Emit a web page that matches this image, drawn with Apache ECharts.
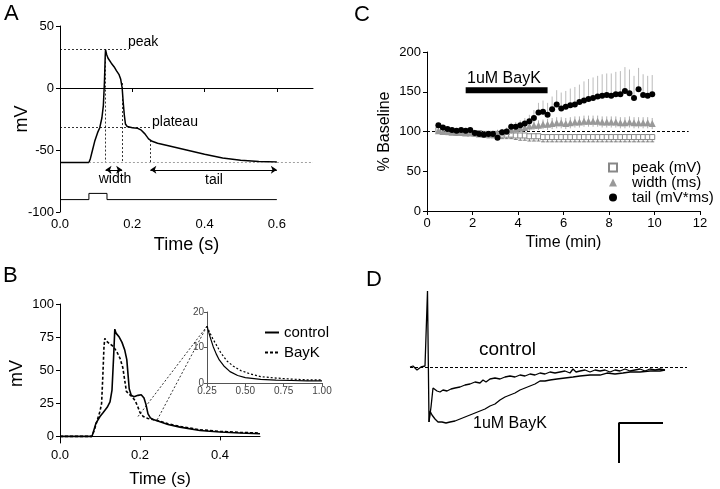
<!DOCTYPE html>
<html>
<head>
<meta charset="utf-8">
<script src="https://cdn.jsdelivr.net/npm/echarts@6/dist/echarts.min.js"></script>
<style>
  html, body { margin: 0; padding: 0; background: #fff; }
  #fig { width: 720px; height: 489px; }
</style>
</head>
<body>
<div id="fig"></div>
<script>
// ---- panel A: action potential with measured parameters
const aTime = [0, 0.08, 0.084, 0.09, 0.096, 0.104, 0.11, 0.116, 0.12, 0.123, 0.125, 0.126, 0.129, 0.133, 0.142, 0.15, 0.156, 0.163, 0.168, 0.172, 0.175, 0.178, 0.181, 0.186, 0.2, 0.215, 0.225, 0.235, 0.245, 0.255, 0.27, 0.3, 0.35, 0.4, 0.45, 0.5, 0.55, 0.6]
const aVm = [-60, -60, -57, -50, -43, -36, -32, -24, -14, 5, 25, 31, 27, 24, 20, 17, 14, 11, 7, 0, -12, -22, -29, -31, -32, -32.5, -34, -37, -41, -43, -44.5, -46.5, -50, -53.5, -56.5, -58.3, -59.3, -59.6]
const stimTime = [0, 0.08, 0.08, 0.13, 0.13, 0.6]
const stimVm = [-90, -90, -85, -85, -90, -90]

// ---- panel B: control vs BayK
const bCtrlTime = [0, 0.08, 0.085, 0.09, 0.1, 0.108, 0.118, 0.125, 0.13, 0.134, 0.137, 0.14, 0.148, 0.155, 0.162, 0.167, 0.17, 0.173, 0.178, 0.185, 0.195, 0.203, 0.21, 0.215, 0.22, 0.226, 0.235, 0.25, 0.27, 0.3, 0.35, 0.4, 0.45, 0.5]
const bCtrlVm = [0, 0, 5, 10, 15, 18, 22, 26, 35, 60, 81, 78, 75, 71, 65, 58, 47, 36, 31, 30, 31, 31.5, 29, 24, 17, 14, 12.5, 11, 9, 7, 4.5, 3.3, 2.5, 2]
const bBayTime = [0, 0.08, 0.085, 0.09, 0.095, 0.1, 0.104, 0.107, 0.11, 0.112, 0.116, 0.124, 0.133, 0.142, 0.15, 0.157, 0.162, 0.166, 0.172, 0.18, 0.188, 0.195, 0.2, 0.208, 0.22, 0.235, 0.25, 0.27, 0.3, 0.35, 0.4, 0.45, 0.5]
const bBayVm = [0, 0, 4, 9, 14, 19, 25, 45, 68, 74, 72, 70, 68, 64, 59, 52, 42, 34, 32, 30, 27, 22, 18, 15, 13.5, 12.5, 11.5, 9.5, 7.5, 5, 3.8, 3, 2.5]
const inCtrlTime = [0.25, 0.27, 0.29, 0.31, 0.33, 0.36, 0.4, 0.45, 0.5, 0.6, 0.7, 0.8, 0.9, 1.0]
const inCtrlVm = [16, 13, 10.3, 8.2, 6.5, 4.8, 3.2, 2.1, 1.5, 1, 0.8, 0.7, 0.6, 0.6]
const inBayTime = [0.25, 0.27, 0.29, 0.31, 0.34, 0.38, 0.42, 0.47, 0.53, 0.6, 0.7, 0.8, 0.9, 1.0]
const inBayVm = [16, 14, 12.3, 10.8, 8.5, 6.2, 4.8, 3.5, 2.6, 1.8, 1.4, 1.1, 0.9, 0.9]

// ---- panel C: time course (% baseline)
const cTime = [0.5, 0.7, 0.9, 1.1, 1.3, 1.5, 1.7, 1.9, 2.1, 2.3, 2.5, 2.7, 2.9, 3.1, 3.3, 3.5, 3.7, 3.9, 4.1, 4.3, 4.5, 4.7, 4.9, 5.1, 5.3, 5.5, 5.7, 5.9, 6.1, 6.3, 6.5, 6.7, 6.9, 7.1, 7.3, 7.5, 7.7, 7.9, 8.1, 8.3, 8.5, 8.7, 8.9, 9.1, 9.3, 9.5, 9.7, 9.9]
const peakVals = [102, 101, 100, 100, 99, 99, 99, 99, 98, 98, 97, 97, 97, 97, 96, 96, 96, 95, 95, 95, 94, 94, 94, 93, 93, 93, 93, 93, 93, 93, 93, 93, 93, 93, 93, 93, 93, 93, 93, 93, 93, 93, 93, 93, 93, 93, 93, 93]
const peakErr = [4, 4, 4, 4, 4, 4, 4, 4, 4, 4, 4, 5, 5, 5, 5, 5, 5, 5, 6, 6, 6, 6, 6, 6, 6, 6, 6, 6, 6, 6, 6, 6, 6, 6, 6, 6, 6, 6, 6, 6, 6, 6, 6, 6, 6, 6, 6, 6]
const widthVals = [101, 100, 100, 99, 99, 99, 98, 98, 98, 97, 97, 97, 97, 98, 99, 100, 102, 103, 104, 105, 107, 108, 108, 109, 109, 110, 111, 111, 110, 111, 112, 112, 113, 113, 113, 113, 112, 112, 112, 112, 111, 111, 112, 111, 111, 111, 111, 110]
const widthErr = [3, 3, 3, 3, 3, 3, 3, 3, 3, 3, 3, 3, 4, 4, 4, 4, 5, 5, 5, 5, 6, 6, 6, 6, 7, 7, 7, 7, 7, 7, 7, 7, 7, 7, 7, 7, 7, 7, 7, 7, 7, 7, 7, 7, 7, 7, 7, 7]
const tailVals = [108, 105, 103, 102, 101, 102, 101, 102, 98, 97, 96, 97, 97, 92, 99, 100, 106, 106, 108, 110, 113, 117, 124, 125, 121, 128, 134, 129, 131, 133, 134, 137, 139, 141, 142, 144, 145, 146, 145, 147, 147, 151, 148, 142, 153, 146, 145, 147]
const tailErr = [3, 3, 3, 3, 3, 3, 3, 3, 4, 4, 4, 4, 4, 4, 4, 5, 5, 6, 6, 7, 8, 10, 12, 14, 15, 16, 18, 20, 20, 21, 22, 22, 24, 25, 26, 26, 27, 27, 28, 28, 29, 30, 30, 28, 27, 26, 25, 24]
const bayKBarTime = [1.7, 5.3]
const bayKBarVal = [152, 152]

// ---- panel D: currents (arbitrary units, baseline = 0)
const dCtrlTime = [0, 3, 5, 7, 9, 11, 13, 15, 17, 17.5, 18.5, 19, 21, 23, 25, 27, 30, 33, 37, 41, 45, 50, 55, 60, 65, 70, 73, 76, 80, 85, 90, 95, 100, 105, 110, 115, 120, 125, 130, 135, 140, 145, 150, 155, 160, 163, 166, 170, 175, 180, 185, 190, 195, 200, 205, 210, 215, 220, 225, 230, 235, 240, 245, 250, 255]
const dCtrlCur = [0, 1, -1, -3, -2, 0, -1, 1, 0, 76, 76, -55, -40, -21, -19, -24, -25, -23, -24, -22, -21, -20, -18, -17, -15, -16, -13, -15, -12, -11, -12, -10, -9, -10, -8, -9, -7, -8, -6, -7, -5, -6, -5, -4, -6, -2, -5, -4, -3, -5, -3, -4, -3, -5, -3, -4, -2, -4, -3, -2, -4, -2, -3, -2, -3]
const dBayTime = [19, 20, 22, 25, 28, 32, 36, 40, 45, 50, 55, 60, 65, 70, 75, 80, 85, 90, 95, 100, 105, 110, 115, 120, 125, 130, 135, 140, 147, 155, 163, 170, 180, 190, 197, 205, 213, 220, 230, 240, 250, 255]
const dBayCur = [-55, -44, -48, -52, -55, -55, -56, -55, -54, -52, -50, -48, -46, -44, -42, -39, -37, -33, -30, -28, -26, -23, -21, -19, -17, -14, -14, -13, -12, -11, -10, -9, -8, -8, -6, -7, -6, -5, -5, -4, -4, -3]
const scaleTime = [253, 209, 209]
const scaleCur = [-56, -56, -96]

const zip = (a, b) => a.map((v, i) => [v, b[i]])
const errData = (xs, ys, es, dir) => xs.map((x, i) => [x, ys[i], ys[i] + dir * es[i]])

const FONT = '"Liberation Sans", Arial, sans-serif'
const axisBase = (extra) => Object.assign({
  type: 'value',
  axisLine: { show: true, lineStyle: { color: '#000', width: 1 } },
  axisTick: { show: true, length: 4, lineStyle: { color: '#000' } },
  axisLabel: { color: '#000', fontSize: 13, fontFamily: FONT, margin: 6 },
  splitLine: { show: false },
  nameTextStyle: { color: '#000', fontFamily: FONT, fontSize: 17 },
  nameLocation: 'middle'
}, extra)

const dotted = { color: '#000', width: 0.8, type: [2, 2] }

const errBar = (color, cap) => function (params, api) {
  const p0 = api.coord([api.value(0), api.value(1)])
  const p1 = api.coord([api.value(0), api.value(2)])
  const kids = [{ type: 'line', shape: { x1: p0[0], y1: p0[1], x2: p1[0], y2: p1[1] }, style: { stroke: color, lineWidth: 0.8 } }]
  if (cap) kids.push({ type: 'line', shape: { x1: p1[0] - 2, y1: p1[1], x2: p1[0] + 2, y2: p1[1] }, style: { stroke: color, lineWidth: 0.8 } })
  return { type: 'group', children: kids }
}

const text = (s, x, y, size, align) => ({
  type: 'text', x: x, y: y, silent: true,
  style: { text: s, fontSize: size, fontFamily: FONT, fill: '#000', align: align || 'left', verticalAlign: 'middle' }
})

let chart = echarts.init(document.getElementById('fig'))
let option = {
  animation: false,
  backgroundColor: '#fff',
  textStyle: { fontFamily: FONT },
  grid: [
    { left: 60, top: 26, width: 253, height: 186 },
    { left: 60, top: 304, width: 200, height: 139 },
    { left: 207, top: 312, width: 115, height: 71 },
    { left: 427, top: 52, width: 273, height: 159 },
    { left: 410, top: 287, width: 280, height: 180 }
  ],
  xAxis: [
    axisBase({ gridIndex: 0, min: 0, max: 0.7, name: 'Time (s)', nameGap: 24, nameTextStyle: { color: '#000', fontFamily: FONT, fontSize: 18 },
      axisTick: { show: true, length: 4, lineStyle: { color: '#000' }, customValues: [0, 0.2, 0.4, 0.6] },
      axisLabel: { color: '#000', fontSize: 13, fontFamily: FONT, margin: 6, customValues: [0, 0.2, 0.4, 0.6], formatter: v => v.toFixed(1) } }),
    axisBase({ gridIndex: 1, min: 0, max: 0.5, name: 'Time (s)', nameGap: 28,
      axisTick: { show: true, length: 4, lineStyle: { color: '#000' }, customValues: [0, 0.2, 0.4] },
      axisLabel: { color: '#000', fontSize: 13, fontFamily: FONT, margin: 6, customValues: [0, 0.2, 0.4], formatter: v => v.toFixed(1) } }),
    axisBase({ gridIndex: 2, min: 0.25, max: 1.0,
      axisLine: { show: true, lineStyle: { color: '#555', width: 1 } },
      axisTick: { show: true, length: 3, lineStyle: { color: '#555' }, customValues: [0.25, 0.5, 0.75, 1.0] },
      axisLabel: { color: '#444', fontSize: 10, fontFamily: FONT, margin: 3, customValues: [0.25, 0.5, 0.75, 1.0], formatter: v => v.toFixed(2) } }),
    axisBase({ gridIndex: 3, min: 0, max: 12, interval: 2, name: 'Time (min)', nameGap: 24, nameTextStyle: { color: '#000', fontFamily: FONT, fontSize: 16 } }),
    { type: 'value', gridIndex: 4, min: 0, max: 280, show: false }
  ],
  yAxis: [
    axisBase({ gridIndex: 0, min: -100, max: 50, interval: 50, name: 'mV', nameGap: 29, nameMoveOverlap: false, nameTextStyle: { color: '#000', fontFamily: FONT, fontSize: 18 } }),
    axisBase({ gridIndex: 1, min: -5, max: 100, name: 'mV', nameGap: 34, nameTextStyle: { color: '#000', fontFamily: FONT, fontSize: 18 },
      axisTick: { show: true, length: 4, lineStyle: { color: '#000' }, customValues: [0, 25, 50, 75, 100] },
      axisLabel: { color: '#000', fontSize: 13, fontFamily: FONT, margin: 6, customValues: [0, 25, 50, 75, 100] } }),
    axisBase({ gridIndex: 2, min: 0, max: 20, interval: 10,
      axisLine: { show: true, lineStyle: { color: '#555', width: 1 } },
      axisTick: { show: true, length: 3, lineStyle: { color: '#555' } },
      axisLabel: { color: '#444', fontSize: 10, fontFamily: FONT, margin: 3 } }),
    axisBase({ gridIndex: 3, min: 0, max: 200, interval: 50, name: '% Baseline', nameGap: 34, nameTextStyle: { color: '#000', fontFamily: FONT, fontSize: 16 } }),
    { type: 'value', gridIndex: 4, min: -100, max: 80, show: false }
  ],
  legend: [
    {
      left: 603, top: 155, orient: 'vertical', itemWidth: 8, itemHeight: 8, itemGap: 0,
      textStyle: { color: '#000', fontSize: 15, fontFamily: FONT, padding: [0, 0, 0, 10] },
      data: ['peak (mV)', 'width (ms)', 'tail (mV*ms)'], selectedMode: false
    },
    {
      left: 259, top: 320, orient: 'vertical', itemWidth: 14, itemHeight: 10, itemGap: 5,
      itemStyle: { opacity: 0 },
      textStyle: { color: '#000', fontSize: 15, fontFamily: FONT },
      data: ['control', 'BayK'], selectedMode: false
    }
  ],
  series: [
    // A
    {
      name: 'AP', type: 'line', xAxisIndex: 0, yAxisIndex: 0, symbol: 'none',
      lineStyle: { color: '#000', width: 1.5 }, data: zip(aTime, aVm),
      markLine: {
        silent: true, symbol: 'none', label: { show: false }, lineStyle: dotted,
        data: [
          [{ coord: [0, 31] }, { coord: [0.19, 31] }],
          [{ coord: [0, -32] }, { coord: [0.25, -32] }],
          [{ coord: [0.126, 31] }, { coord: [0.126, -60] }],
          [{ coord: [0.172, 4] }, { coord: [0.172, -60] }],
          [{ coord: [0.25, -42] }, { coord: [0.25, -60] }],
          [{ coord: [0.08, -60], lineStyle: { color: '#888', width: 0.8, type: [2, 2] } }, { coord: [0.7, -60] }]
        ]
      }
    },
    {
      name: 'stim', type: 'line', xAxisIndex: 0, yAxisIndex: 0, symbol: 'none',
      lineStyle: { color: '#000', width: 1 }, data: zip(stimTime, stimVm),
      markLine: {
        silent: true, symbol: ['arrow', 'arrow'], symbolSize: 6, label: { show: false },
        lineStyle: { color: '#000', width: 1, type: 'solid' },
        data: [
          [{ coord: [0.126, -66] }, { coord: [0.172, -66] }],
          [{ coord: [0.25, -66] }, { coord: [0.6, -66] }]
        ]
      }
    },
    // B main
    { name: 'control', type: 'line', xAxisIndex: 1, yAxisIndex: 1, symbol: 'none', lineStyle: { color: '#000', width: 1.6 }, itemStyle: { color: '#000' }, data: zip(bCtrlTime, bCtrlVm) },
    { name: 'BayK', type: 'line', xAxisIndex: 1, yAxisIndex: 1, symbol: 'none', lineStyle: { color: '#000', width: 1.6, type: [3, 2] }, itemStyle: { color: '#000' }, data: zip(bBayTime, bBayVm) },
    // B inset
    { name: 'control', type: 'line', xAxisIndex: 2, yAxisIndex: 2, symbol: 'none', lineStyle: { color: '#000', width: 1.2 }, data: zip(inCtrlTime, inCtrlVm) },
    { name: 'BayK', type: 'line', xAxisIndex: 2, yAxisIndex: 2, symbol: 'none', lineStyle: { color: '#000', width: 1.2, type: [2, 2] }, data: zip(inBayTime, inBayVm) },
    // C
    { name: 'peakErr', type: 'custom', xAxisIndex: 3, yAxisIndex: 3, renderItem: errBar('#666', true), data: errData(cTime, peakVals, peakErr, -1), z: 2 },
    { name: 'peak (mV)', type: 'scatter', xAxisIndex: 3, yAxisIndex: 3, symbol: 'rect', symbolSize: 5, itemStyle: { color: '#fff', borderColor: '#888', borderWidth: 1, opacity: 1 }, data: zip(cTime, peakVals), z: 3 },
    { name: 'widthErr', type: 'custom', xAxisIndex: 3, yAxisIndex: 3, renderItem: errBar('#999', false), data: errData(cTime, widthVals, widthErr, 1).concat(errData(cTime, widthVals, widthErr, -1)), z: 4 },
    { name: 'width (ms)', type: 'scatter', xAxisIndex: 3, yAxisIndex: 3, symbol: 'triangle', symbolSize: 7, itemStyle: { color: '#999', opacity: 1 }, data: zip(cTime, widthVals), z: 5 },
    { name: 'tailErr', type: 'custom', xAxisIndex: 3, yAxisIndex: 3, renderItem: errBar('#aaa', false), data: errData(cTime, tailVals, tailErr, 1), z: 6 },
    {
      name: 'tail (mV*ms)', type: 'scatter', xAxisIndex: 3, yAxisIndex: 3, symbol: 'circle', symbolSize: 6, itemStyle: { color: '#000', opacity: 1 }, data: zip(cTime, tailVals), z: 7,
      markLine: {
        silent: true, symbol: 'none', label: { show: false },
        lineStyle: { color: '#000', width: 1, type: [3, 2] },
        data: [[{ coord: [0, 100] }, { coord: [11.5, 100] }]]
      }
    },
    { name: 'bar', type: 'line', xAxisIndex: 3, yAxisIndex: 3, symbol: 'none', lineStyle: { color: '#000', width: 6, cap: 'butt' }, data: zip(bayKBarTime, bayKBarVal) },
    // D
    {
      name: 'dCtrl', type: 'line', xAxisIndex: 4, yAxisIndex: 4, symbol: 'none', lineStyle: { color: '#000', width: 1.3 }, data: zip(dCtrlTime, dCtrlCur),
      markLine: {
        silent: true, symbol: 'none', label: { show: false },
        lineStyle: { color: '#000', width: 1, type: [3, 2] },
        data: [[{ coord: [0, 0] }, { coord: [277, 0] }]]
      }
    },
    { name: 'dBay', type: 'line', xAxisIndex: 4, yAxisIndex: 4, symbol: 'none', lineStyle: { color: '#000', width: 1.3 }, data: zip(dBayTime, dBayCur) },
    { name: 'scale', type: 'line', xAxisIndex: 4, yAxisIndex: 4, symbol: 'none', lineStyle: { color: '#000', width: 2 }, data: zip(scaleTime, scaleCur) }
  ],
  graphic: [
    text('A', 4, 14, 22), text('B', 3, 276, 22), text('C', 354, 15, 22), text('D', 366, 280, 22),
    text('peak', 128, 42, 14), text('plateau', 152, 122, 14),
    text('width', 115, 179, 14, 'center'), text('tail', 214, 180, 14, 'center'),
    text('1uM BayK', 467, 79, 16),
    text('control', 479, 350, 19), text('1uM BayK', 473, 424, 16)
  ]
}
chart.setOption(option)

// dotted connectors from the main trace to the inset
const from1 = chart.convertToPixel({ xAxisIndex: 1, yAxisIndex: 1 }, [0.195, 15])
const from2 = chart.convertToPixel({ xAxisIndex: 1, yAxisIndex: 1 }, [0.243, 12.5])
const to = chart.convertToPixel({ xAxisIndex: 2, yAxisIndex: 2 }, [0.25, 16])
const conn = (a, b) => ({ type: 'line', silent: true, shape: { x1: a[0], y1: a[1], x2: b[0], y2: b[1] }, style: { stroke: '#000', lineWidth: 0.8, lineDash: [2, 2] } })
chart.setOption({ graphic: option.graphic.concat([conn(from1, to), conn(from2, to)]) })
</script>
</body>
</html>
